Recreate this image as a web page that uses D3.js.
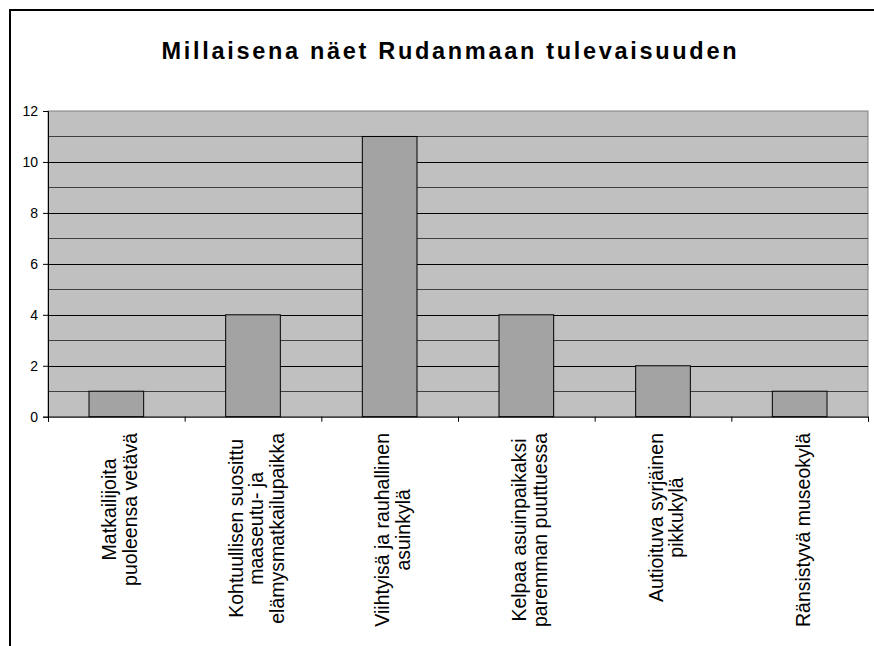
<!DOCTYPE html>
<html>
<head>
<meta charset="utf-8">
<script src="https://cdn.jsdelivr.net/npm/d3@7"></script>
<style>
  html, body { margin: 0; padding: 0; background: #fff; }
  svg { display: block; }
</style>
</head>
<body>
<svg id="chart" width="874" height="646"></svg>
<script>
const title = "Millaisena näet Rudanmaan tulevaisuuden";
const categories = [
  "Matkailijoita\npuoleensa vetävä",
  "Kohtuullisen suosittu\nmaaseutu- ja\nelämysmatkailupaikka",
  "Viihtyisä ja rauhallinen\nasuinkylä",
  "Kelpaa asuinpaikaksi\nparemman puuttuessa",
  "Autioituva syrjäinen\npikkukylä",
  "Ränsistyvä museokylä"
];
const values = [1, 4, 11, 4, 2, 1];
const yTicks = [0, 2, 4, 6, 8, 10, 12];
const gridValues = [1, 2, 3, 4, 5, 6, 7, 8, 9, 10, 11];

(function () {
const svg = d3.select("#chart");
const W = 874, H = 646;
const pL = 48, pR = 868, pT = 111, pB = 416.7;

// outer border
svg.append("rect").attr("x", 10).attr("y", 10).attr("width", W + 20).attr("height", H + 20)
  .attr("fill", "#fff").attr("stroke", "#000").attr("stroke-width", 2);

// title
svg.append("text")
  .attr("x", 449).attr("y", 59)
  .attr("text-anchor", "middle")
  .attr("font-family", "Liberation Sans, Arial, sans-serif")
  .attr("font-weight", "bold")
  .attr("font-size", 23.5)
  .attr("textLength", 575)
  .attr("lengthAdjust", "spacing")
  .attr("fill", "#000")
  .text(title);

const x = d3.scaleBand().domain(categories).range([pL, pR]).paddingInner(0.6).paddingOuter(0.3);
const y = d3.scaleLinear().domain([0, 12]).range([pB, pT]);
const xb = d3.scaleLinear().domain([0, categories.length]).range([pL, pR]);

// plot background
svg.append("rect").attr("x", pL).attr("y", pT).attr("width", pR - pL).attr("height", pB - pT)
  .attr("fill", "#C0C0C0").attr("stroke", "#808080").attr("stroke-width", 1);

// gridlines
svg.append("g").selectAll("line").data(gridValues).join("line")
  .attr("x1", pL).attr("x2", pR)
  .attr("y1", d => Math.round(y(d)) + 0.5).attr("y2", d => Math.round(y(d)) + 0.5)
  .attr("stroke", d => d % 2 === 0 ? "#000" : "#404040")
  .attr("stroke-width", 1);

// bars
svg.append("g").selectAll("rect").data(values).join("rect")
  .attr("x", (d, i) => x(categories[i]))
  .attr("y", d => y(d))
  .attr("width", x.bandwidth())
  .attr("height", d => pB - y(d))
  .attr("fill", "#A3A3A3")
  .attr("stroke", "#000")
  .attr("stroke-width", 1);

// y axis
const yAxis = svg.append("g").attr("transform", `translate(${pL},0)`)
  .call(d3.axisLeft(y).tickValues(yTicks).tickSize(5).tickPadding(5).tickFormat(d3.format("d")));
yAxis.select(".domain").attr("stroke", "#000");
yAxis.selectAll(".tick line").attr("stroke", "#000");
yAxis.selectAll("text").attr("font-family", "Liberation Sans, Arial, sans-serif").attr("font-size", 14).attr("fill", "#000");

// x axis (boundary ticks)
const xAxis = svg.append("g").attr("transform", `translate(0,${pB})`)
  .call(d3.axisBottom(xb).ticks(categories.length).tickSize(5).tickFormat(""));
xAxis.select(".domain").attr("stroke", "#000");
xAxis.selectAll(".tick line").attr("stroke", "#000");

// x labels rotated
const fs = 19.5, lh = 20.5, topY = 433;
categories.forEach((c, i) => {
  const lines = c.split("\n");
  const cx = x(c) + x.bandwidth() / 2 + 3;
  const t = svg.append("text")
    .attr("font-family", "Liberation Sans, Arial, sans-serif")
    .attr("font-size", fs)
    .attr("fill", "#000")
    .attr("text-anchor", "middle");
  const spans = lines.map(ln => t.append("tspan").text(ln));
  let maxLen = 0;
  spans.forEach(s => { maxLen = Math.max(maxLen, s.node().getComputedTextLength()); });
  const cy = topY + maxLen / 2;
  t.attr("transform", `translate(${cx},${cy}) rotate(-90)`);
  spans.forEach((s, j) => {
    s.attr("x", 0).attr("y", (j - (lines.length - 1) / 2) * lh + fs * 0.36);
  });
});
})();
</script>
</body>
</html>
